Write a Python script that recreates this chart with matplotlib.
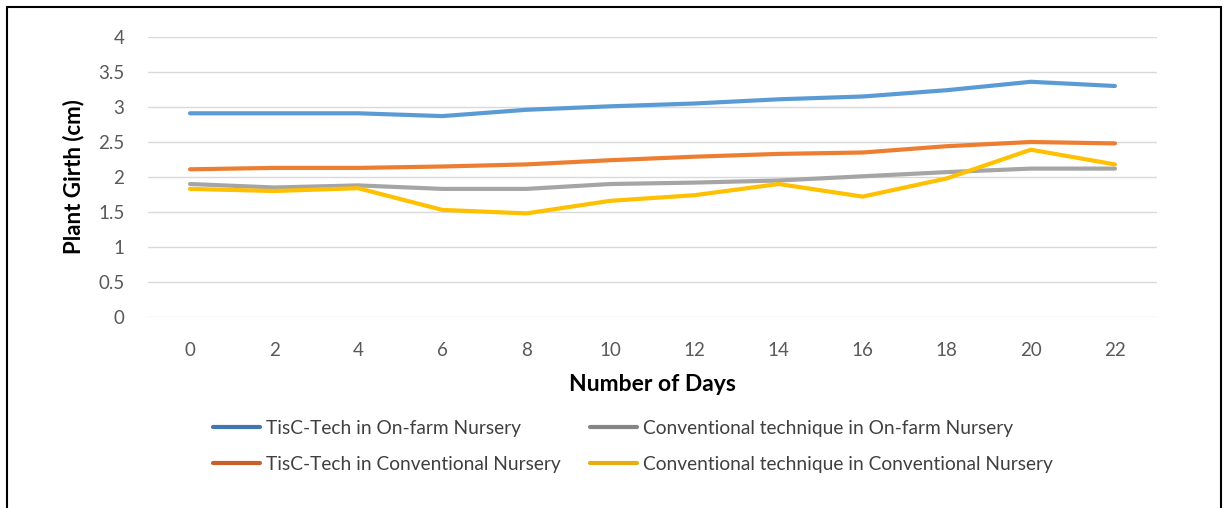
import matplotlib.pyplot as plt
from matplotlib.patches import Rectangle

days = [0, 2, 4, 6, 8, 10, 12, 14, 16, 18, 20, 22]
tisc_onfarm = [2.91, 2.91, 2.91, 2.87, 2.96, 3.01, 3.05, 3.11, 3.15, 3.24, 3.36, 3.30]
conv_onfarm = [1.90, 1.85, 1.88, 1.83, 1.83, 1.90, 1.92, 1.95, 2.01, 2.07, 2.12, 2.12]
tisc_conv = [2.11, 2.13, 2.13, 2.15, 2.18, 2.24, 2.29, 2.33, 2.35, 2.44, 2.50, 2.48]
conv_conv = [1.83, 1.80, 1.84, 1.53, 1.48, 1.66, 1.74, 1.90, 1.72, 1.98, 2.39, 2.18]

labels = [
    "TisC-Tech in On-farm Nursery",
    "Conventional technique in On-farm Nursery",
    "TisC-Tech in Conventional Nursery",
    "Conventional technique in Conventional Nursery",
]
colors = ["#5B9BD5", "#A5A5A5", "#ED7D31", "#FFC000"]
legend_colors = ["#3F78B0", "#858585", "#C8602A", "#E6AC10"]

plt.rcParams['font.family'] = ['Lato', 'DejaVu Sans']

fig = plt.figure(figsize=(12.28, 5.08), dpi=100)
ax = fig.add_axes([148 / 1228, 1 - 317 / 508, (1157 - 148) / 1228, 280 / 508])

x = list(range(len(days)))
series = [tisc_onfarm, conv_onfarm, tisc_conv, conv_conv]
lines = []
for vals, c, lab in zip(series, colors, labels):
    ln, = ax.plot(x, vals, color=c, lw=3.0, label=lab, solid_capstyle='round', zorder=3)
    lines.append(ln)

ax.set_xlim(-0.5, len(days) - 0.5)
ax.set_ylim(0, 4)
ax.set_yticks([0, 0.5, 1, 1.5, 2, 2.5, 3, 3.5, 4])
ax.set_yticklabels(['0', '0.5', '1', '1.5', '2', '2.5', '3', '3.5', '4'])
ax.set_xticks(x)
ax.set_xticklabels([str(d) for d in days])
ax.grid(axis='y', color='#D9D9D9', lw=1.0, zorder=0)
ax.tick_params(axis='y', length=0, pad=17, labelsize=13.5, labelcolor='#595959')
ax.tick_params(axis='x', length=0, pad=18, labelsize=13.5, labelcolor='#595959')
for s in ax.spines.values():
    s.set_visible(False)

ax.set_xlabel('Number of Days', fontsize=16.5, fontweight='bold', labelpad=11)
ax.set_ylabel('Plant Girth (cm)', fontsize=16, fontweight='bold', labelpad=10)

# legend fills column-wise: blue, orange | grey, yellow
order = [0, 2, 1, 3]
leg = fig.legend([lines[i] for i in order], [labels[i] for i in order],
                 loc='upper left', ncol=2,
                 bbox_to_anchor=(213 / 1228, 1 - 420 / 508),
                 frameon=False, fontsize=13.8, handlelength=2.45,
                 handletextpad=0.3, columnspacing=1.55, labelspacing=1.0,
                 borderpad=0, borderaxespad=0)
for h, i in zip(leg.legend_handles, order):
    h.set_color(legend_colors[i])
    h.set_linewidth(3.0)
for t in leg.get_texts():
    t.set_color('#404040')

fig.patches.append(Rectangle((7 / 1228, -0.05), (1221 - 7) / 1228, 1.05 - 7 / 508,
                             transform=fig.transFigure, fill=False,
                             edgecolor='black', lw=1.5))

fig.savefig('out.png', dpi=100)
